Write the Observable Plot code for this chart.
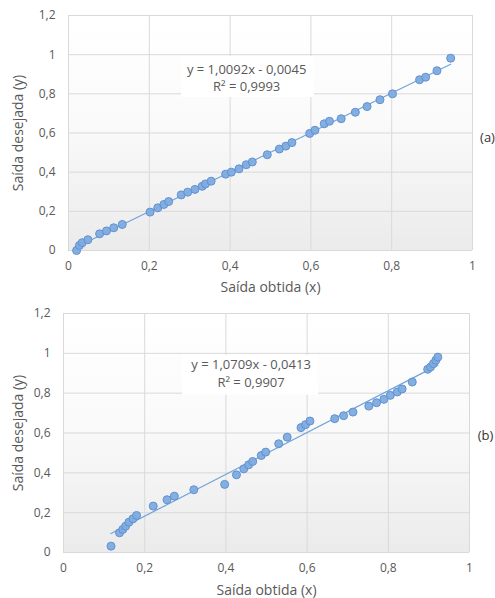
<!DOCTYPE html>
<html>
<head>
<meta charset="utf-8">
<script src="https://cdn.jsdelivr.net/npm/d3@7"></script>
<script src="https://cdn.jsdelivr.net/npm/@observablehq/plot@0.6"></script>
<style>
  html, body { margin: 0; padding: 0; background: white; }
  #wrap { width: 495px; }
  #wrap svg { display: block; }
</style>
</head>
<body>
<div id="wrap"></div>
<script>
// ---- data ----
const xTicks = [0, 0.2, 0.4, 0.6, 0.8, 1];
const yTicks = [0, 0.2, 0.4, 0.6, 0.8, 1, 1.2];
const xTitle = "Saída obtida (x)";
const yTitle = "Saída desejada (y)";

// chart (a)
const xA = [0.02,0.027,0.034,0.048,0.077,0.094,0.112,0.133,0.202,0.221,0.236,0.248,0.279,0.295,0.313,0.331,0.339,0.353,0.389,0.403,0.422,0.44,0.455,0.492,0.522,0.538,0.553,0.597,0.61,0.633,0.646,0.675,0.71,0.739,0.771,0.802,0.869,0.884,0.912,0.946];
const yA = [0,0.026,0.04,0.055,0.085,0.10,0.116,0.133,0.196,0.218,0.235,0.25,0.284,0.298,0.312,0.328,0.34,0.354,0.39,0.40,0.417,0.438,0.452,0.489,0.518,0.533,0.551,0.598,0.614,0.647,0.66,0.673,0.706,0.735,0.77,0.80,0.872,0.885,0.918,0.982];
const eqA = ["y = 1,0092x - 0,0045", "R² = 0,9993"];
const tagA = "(a)";

// chart (b)
const xB = [0.117,0.138,0.146,0.153,0.161,0.171,0.18,0.221,0.255,0.273,0.321,0.397,0.426,0.444,0.456,0.466,0.487,0.498,0.53,0.551,0.585,0.596,0.607,0.668,0.69,0.713,0.752,0.771,0.789,0.805,0.822,0.834,0.859,0.897,0.904,0.911,0.917,0.922];
const yB = [0.032,0.099,0.116,0.132,0.152,0.169,0.186,0.233,0.265,0.283,0.315,0.342,0.39,0.42,0.44,0.457,0.487,0.504,0.546,0.579,0.627,0.642,0.66,0.672,0.687,0.705,0.735,0.752,0.769,0.789,0.806,0.821,0.856,0.92,0.931,0.948,0.965,0.981];
const eqB = ["y = 1,0709x - 0,0413", "R² = 0,9907"];
const tagB = "(b)";

// ---- layout / style ----
const fmt = d => String(d).replace(".", ",");
const textColor = "#595959";
const gridColor = "#d9d9d9";
const dotFill = "#80abdf";
const dotStroke = "#5f92d2";
const lineColor = "#70a3da";
const font = "'Open Sans', sans-serif";

function chart(cfg) {
  const data = cfg.xs.map((x, i) => ({x, y: cfg.ys[i]}));
  const svg = Plot.plot({
    width: 495,
    height: cfg.height,
    marginLeft: cfg.m[3], marginRight: cfg.m[1], marginTop: cfg.m[0], marginBottom: cfg.m[2],
    style: {fontFamily: font, fontSize: "12px", color: textColor, background: "white"},
    x: {domain: [0, 1], ticks: xTicks, tickFormat: fmt, tickSize: 0, tickPadding: 11, label: null},
    y: {domain: [0, 1.2], ticks: yTicks, tickFormat: fmt, tickSize: 0, tickPadding: 13, label: null},
    marks: [
      Plot.frame({fill: `url(#${cfg.id})`}),
      Plot.gridX(xTicks, {stroke: gridColor, strokeOpacity: 1}),
      Plot.gridY(yTicks, {stroke: gridColor, strokeOpacity: 1}),
      Plot.rect([cfg.box], {x1: d => d[0], x2: d => d[1], y1: d => d[2], y2: d => d[3], fill: "white"}),
      Plot.text([cfg.eq.join("\n")], {x: () => cfg.eqPos[0], y: () => cfg.eqPos[1], text: d => d,
        lineHeight: 1.35, fontSize: 13, fill: textColor}),
      Plot.linearRegressionY(data, {x: "x", y: "y", stroke: lineColor, strokeWidth: 1.2, ci: 0}),
      Plot.dot(data, {x: "x", y: "y", r: 4, fill: dotFill, fillOpacity: 0.95, stroke: dotStroke, strokeWidth: 1}),
      Plot.text([xTitle], {frameAnchor: "bottom", dy: cfg.xTitleDy, lineAnchor: "middle", textAnchor: "middle",
        text: d => d, fontSize: 14, fill: textColor}),
      Plot.text([yTitle], {frameAnchor: "left", dx: cfg.yTitleDx, rotate: -90, textAnchor: "middle", lineAnchor: "middle",
        text: d => d, fontSize: 14, fill: textColor}),
      Plot.text([cfg.tag], {frameAnchor: "right", dx: cfg.tagOff[0], dy: cfg.tagOff[1], textAnchor: "middle",
        lineAnchor: "middle", text: d => d, fontSize: 13, fill: "#333333"})
    ]
  });
  const defs = d3.select(svg).insert("defs", ":first-child");
  const g = defs.append("linearGradient").attr("id", cfg.id)
    .attr("x1", 0).attr("y1", 0).attr("x2", 0).attr("y2", 1);
  g.append("stop").attr("offset", "0%").attr("stop-color", "#ffffff");
  g.append("stop").attr("offset", "45%").attr("stop-color", "#fafafa");
  g.append("stop").attr("offset", "100%").attr("stop-color", "#ebebeb");
  return svg;
}

const wrap = document.getElementById("wrap");
wrap.appendChild(chart({
  id: "gradA", xs: xA, ys: yA, eq: eqA, tag: tagA,
  height: 300, m: [15, 23, 50, 68],
  box: [0.28, 0.609, 0.781, 0.99],
  eqPos: [0.441, 0.886],
  xTitleDy: 37, yTitleDx: -50, tagOff: [15, 4.5]
}));
wrap.appendChild(chart({
  id: "gradB", xs: xB, ys: yB, eq: eqB, tag: tagB,
  height: 298, m: [13, 26, 46, 63],
  box: [0.293, 0.628, 0.79, 0.99],
  eqPos: [0.462, 0.905],
  xTitleDy: 38, yTitleDx: -45, tagOff: [16, 2.5]
}));
</script>
</body>
</html>
